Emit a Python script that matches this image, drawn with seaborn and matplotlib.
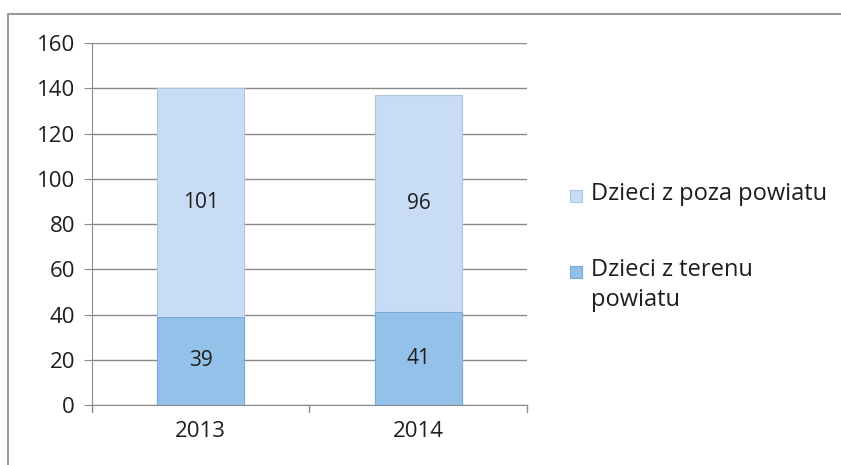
import pandas as pd
import matplotlib.pyplot as plt
import seaborn as sns
from matplotlib.patches import Rectangle
from matplotlib.lines import Line2D

# values
years = ["2013", "2014"]
local_kids = [39, 41]       # Dzieci z terenu powiatu
outside_kids = [101, 96]    # Dzieci z poza powiatu
y_ticks = [0, 20, 40, 60, 80, 100, 120, 140, 160]

light = "#c9dcf5"
dark = "#93c1e9"
txt = "#1e1e1e"
fs = 16

data = pd.DataFrame({"year": years, "local": local_kids, "outside": outside_kids})
data["total"] = data["local"] + data["outside"]

sns.set_style("white")
plt.rcParams["font.family"] = ["Open Sans", "DejaVu Sans"]

fig = plt.figure(figsize=(8.41, 4.65), dpi=100)
ax = fig.add_axes([0.109, 0.129, 0.518, 0.778])

# stacked: draw totals first, then the bottom segment on top
sns.barplot(data=data, x="year", y="total", color=light, width=0.4,
            saturation=1, edgecolor="#b0c4de", linewidth=0.8, ax=ax, zorder=2)
sns.barplot(data=data, x="year", y="local", color=dark, width=0.4,
            saturation=1, edgecolor="#7aa9d6", linewidth=0.8, ax=ax, zorder=3)

# segment labels
for i, row in data.iterrows():
    ax.text(i, row["local"] / 2, str(row["local"]), ha="center", va="center",
            fontsize=fs - 1, color=txt, zorder=4)
    ax.text(i, row["local"] + row["outside"] / 2, str(row["outside"]),
            ha="center", va="center", fontsize=fs - 1, color=txt, zorder=4)

ax.set_ylim(0, 160)
ax.set_xlim(-0.5, 1.5)
ax.set_yticks(y_ticks)
ax.set_yticklabels([str(t) for t in y_ticks], fontsize=fs, color=txt)
ax.set_xticks([0, 1])
ax.set_xticklabels(years, fontsize=fs, color=txt)
ax.set_xlabel("")
ax.set_ylabel("")
ax.yaxis.grid(True, color="#8a8a8a", linewidth=1)
ax.set_axisbelow(True)

for side in ["top", "right"]:
    ax.spines[side].set_visible(False)
ax.spines["left"].set_color("#8a8a8a")
ax.spines["bottom"].set_color("#8a8a8a")
ax.tick_params(axis="y", left=True, length=6, color="#8a8a8a", pad=6)
ax.tick_params(axis="x", bottom=False, pad=8)
# category boundary ticks on the x axis
for xb in [-0.5, 0.5, 1.5]:
    ax.plot([xb, xb], [0, -3], color="#8a8a8a", linewidth=1, clip_on=False)

# legend, square aligned with the first text line
legend_items = [("Dzieci z poza powiatu", light, "#b0c4de", 196),
                ("Dzieci z terenu\npowiatu", dark, "#7aa9d6", 272)]
W, H = 841, 465
for label, face, edge, ypix in legend_items:
    fig.patches.append(Rectangle((570 / W, 1 - (ypix + 6) / H), 12 / W, 12 / H,
                                 transform=fig.transFigure, facecolor=face,
                                 edgecolor=edge, linewidth=0.8))
    fig.text(591 / W, 1 - (ypix - 14) / H, label, fontsize=fs + 1, color=txt,
             va="top", ha="left", linespacing=1.35)

# outer frame (top and left edges visible in the scan)
fig.add_artist(Line2D([8 / W, 1], [1 - 14 / H, 1 - 14 / H], transform=fig.transFigure,
                      color="#9a9a9a", linewidth=1.5))
fig.add_artist(Line2D([8 / W, 8 / W], [0, 1 - 14 / H], transform=fig.transFigure,
                      color="#9a9a9a", linewidth=1.5))

plt.savefig("out.png", dpi=100)
